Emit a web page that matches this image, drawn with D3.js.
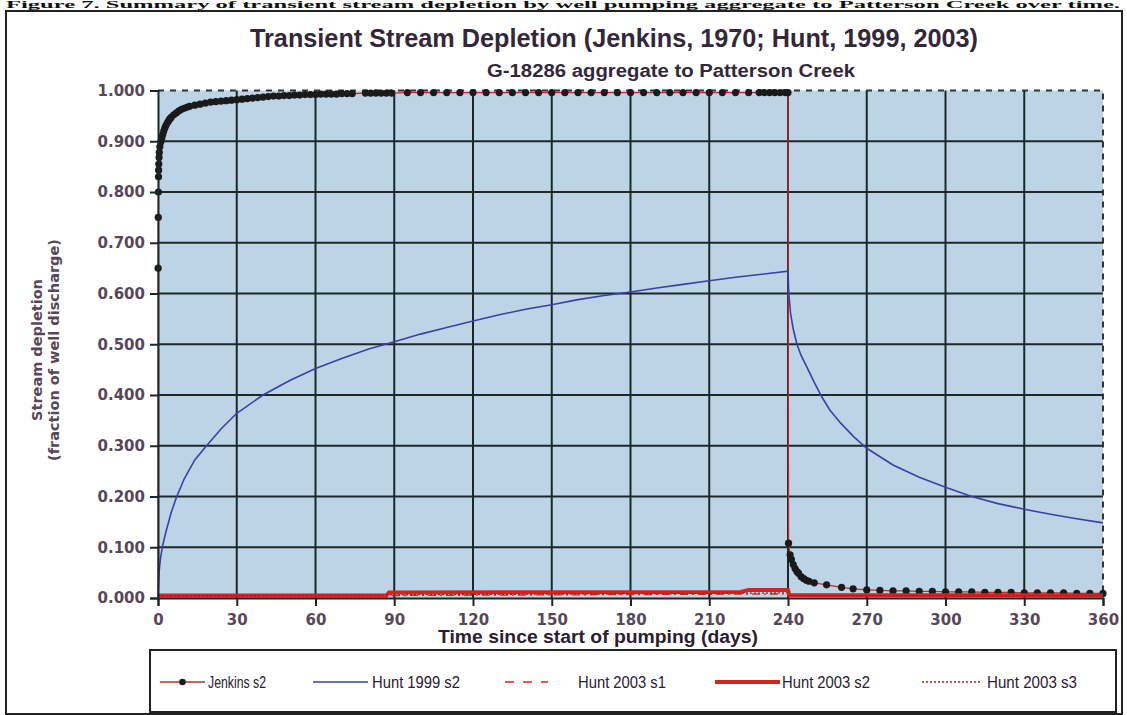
<!DOCTYPE html>
<html>
<head>
<meta charset="utf-8">
<script src="https://cdn.jsdelivr.net/npm/d3@7"></script>
<style>
  body { margin: 0; background: #fff; }
  svg { display: block; }
</style>
</head>
<body>
<script>
// tick labels
var xTicks = [0, 30, 60, 90, 120, 150, 180, 210, 240, 270, 300, 330, 360];
var yTicks = [0, 0.1, 0.2, 0.3, 0.4, 0.5, 0.6, 0.7, 0.8, 0.9, 1.0];

// Jenkins s2 (days, fraction)
var jenkinsDays = [0, 0.05, 0.1, 0.15, 0.2, 0.25, 0.3, 0.4, 0.5, 0.7, 1, 1.4, 1.8, 2.2, 2.6, 3, 3.5, 4, 4.5, 5, 6, 7, 8, 9, 10, 11, 12, 14, 16, 18, 20, 22, 24, 26, 28, 30, 32, 34, 36, 38, 40, 42, 44, 46, 48, 50, 52, 54, 56, 58, 60, 62, 64, 66, 68, 70, 72, 74,
  79, 81, 83, 85, 87, 89,
  95, 100, 105, 110, 115, 120, 125, 130, 135, 140, 145, 150, 155, 160, 165, 170, 175, 180, 185, 190, 195, 200, 205, 210, 215, 220, 225,
  229, 231, 233, 235, 237, 239, 240,
  240.2, 240.8, 241.3, 242, 242.7, 243.4, 244, 245, 246, 247, 248, 250, 254.7, 260.4, 264.8, 270, 275, 280, 285, 290, 295, 300, 305, 310, 315, 320, 325, 330, 335, 340, 345, 350, 355, 360];
var jenkinsValues = [0, 0.65, 0.75, 0.80, 0.83, 0.843, 0.855, 0.868, 0.878, 0.889, 0.898, 0.906, 0.913, 0.920, 0.926, 0.931, 0.936, 0.940, 0.944, 0.947, 0.952, 0.956, 0.960, 0.963, 0.965, 0.967, 0.969, 0.971, 0.973, 0.975, 0.977, 0.978, 0.979, 0.980, 0.981, 0.982, 0.983, 0.984, 0.985, 0.986, 0.987, 0.988, 0.989, 0.989, 0.990, 0.990, 0.991, 0.991, 0.992, 0.992, 0.992, 0.993, 0.993, 0.993, 0.993, 0.994, 0.994, 0.994,
  0.995, 0.995, 0.995, 0.995, 0.995, 0.995,
  0.996, 0.996, 0.996, 0.996, 0.996, 0.996, 0.996, 0.996, 0.996, 0.996, 0.996, 0.996, 0.996, 0.996, 0.996, 0.996, 0.996, 0.996, 0.996, 0.996, 0.996, 0.996, 0.996, 0.996, 0.996, 0.996, 0.996,
  0.996, 0.996, 0.996, 0.996, 0.996, 0.996, 0.996,
  0.108, 0.085, 0.076, 0.066, 0.058, 0.052, 0.049, 0.042, 0.038, 0.035, 0.033, 0.030, 0.026, 0.021, 0.018, 0.016, 0.015, 0.014, 0.014, 0.013, 0.013, 0.012, 0.012, 0.012, 0.011, 0.011, 0.011, 0.010, 0.010, 0.010, 0.010, 0.009, 0.009, 0.009];

// Hunt 1999 s2
var hunt99Days = [0, 0.3, 0.6, 1, 1.8, 3, 5, 7, 10, 14, 18.5, 24, 30, 40, 50, 60, 70, 80, 90, 100, 110, 120, 130, 140, 150, 160, 170, 180, 190, 200, 210, 220, 230, 240,
  240.3, 241, 242, 243.4, 245, 247.2, 250, 252.9, 256, 260, 265, 270, 280, 290, 300, 310, 320, 330, 340, 350, 360];
var hunt99Values = [0, 0.04, 0.062, 0.08, 0.104, 0.13, 0.168, 0.198, 0.235, 0.272, 0.30, 0.333, 0.364, 0.40, 0.428, 0.452, 0.472, 0.49, 0.505, 0.52, 0.533, 0.546, 0.558, 0.569, 0.578, 0.588, 0.596, 0.603, 0.611, 0.618, 0.625, 0.632, 0.638, 0.644,
  0.60, 0.56, 0.53, 0.50, 0.478, 0.455, 0.425, 0.396, 0.37, 0.345, 0.318, 0.295, 0.262, 0.238, 0.218, 0.200, 0.186, 0.175, 0.165, 0.156, 0.148];

// Hunt 2003 s1, s2, s3
var hunt03s1Days = [0, 240, 240.5, 360];
var hunt03s1Values = [0.003, 0.008, 0.004, 0.003];
var hunt03s2Days = [0, 87, 88, 222, 225, 240, 240.5, 360];
var hunt03s2Values = [0.005, 0.005, 0.011, 0.012, 0.016, 0.016, 0.006, 0.005];
var hunt03s3Days = [0, 240, 240.5, 360];
var hunt03s3Values = [0.004, 0.010, 0.005, 0.004];

var seriesNames = ["Jenkins s2", "Hunt 1999 s2", "Hunt 2003 s1", "Hunt 2003 s2", "Hunt 2003 s3"];

var W = 1127, H = 715;
var svg = d3.select("body").append("svg").attr("width", W).attr("height", H);

var narrow = "'Liberation Sans Narrow', 'Arial Narrow', 'Liberation Sans', Arial, sans-serif";
var wide = "'DejaVu Sans', Verdana, sans-serif";

// line of document text above the chart
svg.append("text")
  .attr("x", 6).attr("y", 8)
  .attr("textLength", 1114).attr("lengthAdjust", "spacingAndGlyphs")
  .style("font-family", "'Liberation Serif', 'Times New Roman', serif")
  .style("font-weight", "bold").style("font-size", "10px").style("fill", "#111")
  .text("Figure 7. Summary of transient stream depletion by well pumping aggregate to Patterson Creek over time.");

// outer chart box
svg.append("rect")
  .attr("x", 6).attr("y", 11).attr("width", 1116).attr("height", 703)
  .attr("fill", "#fff").attr("stroke", "#222").attr("stroke-width", 2);

var x = d3.scaleLinear().domain([0, 360]).range([158, 1103]);
var y = d3.scaleLinear().domain([0, 1]).range([598, 90.5]);

// plot area
svg.append("rect")
  .attr("x", x(0)).attr("y", y(1))
  .attr("width", x(360) - x(0)).attr("height", y(0) - y(1))
  .attr("fill", "#bdd4e7");

var grid = svg.append("g").attr("stroke", "#1c2828").attr("stroke-width", 2);
grid.selectAll("line.v").data(xTicks.filter(function(d){ return d > 0 && d < 360; }))
  .enter().append("line")
  .attr("x1", function(d){ return x(d); }).attr("x2", function(d){ return x(d); })
  .attr("y1", y(1)).attr("y2", y(0));
grid.selectAll("line.h").data(yTicks.filter(function(d){ return d > 0 && d < 1; }))
  .enter().append("line")
  .attr("x1", x(0)).attr("x2", x(360))
  .attr("y1", function(d){ return y(d); }).attr("y2", function(d){ return y(d); });

// dashed plot border (top, right)
svg.append("path")
  .attr("d", "M" + x(0) + "," + y(1) + "H" + x(360) + "V" + y(0))
  .attr("fill", "none").attr("stroke", "#333").attr("stroke-width", 2)
  .attr("stroke-dasharray", "6,6");

function zipPts(days, vals) {
  return days.map(function(d, i){ return [d, vals[i]]; });
}
var line = d3.line().x(function(d){ return x(d[0]); }).y(function(d){ return y(d[1]); });

var jenkins = zipPts(jenkinsDays, jenkinsValues);
svg.append("path").datum(jenkins).attr("d", line)
  .attr("fill", "none").attr("stroke", "#c42a24").attr("stroke-width", 1.3);
svg.append("g").selectAll("circle").data(jenkins.slice(1)).enter().append("circle")
  .attr("cx", function(d){ return x(d[0]); }).attr("cy", function(d){ return y(d[1]); })
  .attr("r", 3.6).attr("fill", "#1a1a1a");

svg.append("path").datum(zipPts(hunt99Days, hunt99Values)).attr("d", line)
  .attr("fill", "none").attr("stroke", "#3d3fa6").attr("stroke-width", 1.6);

svg.append("path").datum(zipPts(hunt03s1Days, hunt03s1Values)).attr("d", line)
  .attr("fill", "none").attr("stroke", "#d4281f").attr("stroke-width", 1.3)
  .attr("stroke-dasharray", "8,4,2,4");
svg.append("path").datum(zipPts(hunt03s2Days, hunt03s2Values)).attr("d", line)
  .attr("fill", "none").attr("stroke", "#d4221c").attr("stroke-width", 4);
svg.append("path").datum(zipPts(hunt03s3Days, hunt03s3Values)).attr("d", line)
  .attr("fill", "none").attr("stroke", "#a8201c").attr("stroke-width", 1.3)
  .attr("stroke-dasharray", "2,2");

// axes
var labelColor = "#584757";
var yAxis = svg.append("g").attr("transform", "translate(" + x(0) + ",0)")
  .call(d3.axisLeft(y).tickValues(yTicks).tickFormat(d3.format(".3f")).tickSize(8).tickPadding(5));
var xAxis = svg.append("g").attr("transform", "translate(0," + y(0) + ")")
  .call(d3.axisBottom(x).tickValues(xTicks).tickSize(8).tickPadding(8));
[yAxis, xAxis].forEach(function(a){
  a.select(".domain").attr("stroke", "#1c2828").attr("stroke-width", 2);
  a.selectAll(".tick line").attr("stroke", "#1c2828").attr("stroke-width", 2);
  a.selectAll(".tick text")
    .style("font-family", wide).style("font-weight", "bold")
    .style("font-size", "15px").style("fill", labelColor);
});

// titles
svg.append("text")
  .attr("x", 614).attr("y", 47).attr("text-anchor", "middle")
  .attr("textLength", 728).attr("lengthAdjust", "spacingAndGlyphs")
  .style("font-family", narrow).style("font-weight", "bold").style("font-size", "25px")
  .style("fill", "#33283a")
  .text("Transient Stream Depletion (Jenkins, 1970; Hunt, 1999, 2003)");
svg.append("text")
  .attr("x", 671).attr("y", 77).attr("text-anchor", "middle")
  .attr("textLength", 368).attr("lengthAdjust", "spacingAndGlyphs")
  .style("font-family", narrow).style("font-weight", "bold").style("font-size", "18px")
  .style("fill", "#33283a")
  .text("G-18286 aggregate to Patterson Creek");
svg.append("text")
  .attr("x", 598).attr("y", 643).attr("text-anchor", "middle")
  .attr("textLength", 320).attr("lengthAdjust", "spacingAndGlyphs")
  .style("font-family", narrow).style("font-weight", "bold").style("font-size", "18px")
  .style("fill", "#2a2030")
  .text("Time since start of pumping (days)");

var yTitle = svg.append("text")
  .attr("transform", "translate(46,350) rotate(-90)")
  .attr("text-anchor", "middle")
  .style("font-family", wide).style("font-weight", "bold").style("font-size", "14.5px")
  .style("fill", labelColor);
yTitle.append("tspan").attr("x", 0).attr("dy", "-0.3em").text("Stream depletion");
yTitle.append("tspan").attr("x", 0).attr("dy", "1.2em").text("(fraction of well discharge)");

// legend
svg.append("rect")
  .attr("x", 150).attr("y", 650).attr("width", 966).attr("height", 62)
  .attr("fill", "#fff").attr("stroke", "#222").attr("stroke-width", 2);

var legendItems = [
  {name: seriesNames[0], x1: 160, x2: 205, tx: 208, tl: 58, color: "#c42a24", w: 1.5, dash: null, marker: true},
  {name: seriesNames[1], x1: 313, x2: 368, tx: 372, tl: 88, color: "#3d3fa6", w: 1.6, dash: null},
  {name: seriesNames[2], x1: 505, x2: 548, tx: 578, tl: 88, color: "#d4281f", w: 1.6, dash: "9,9"},
  {name: seriesNames[3], x1: 715, x2: 780, tx: 782, tl: 88, color: "#d4221c", w: 4, dash: null},
  {name: seriesNames[4], x1: 922, x2: 982, tx: 987, tl: 90, color: "#a8201c", w: 1.4, dash: "2,2"}
];
var ly = 682;
var lg = svg.append("g").selectAll("g").data(legendItems).enter().append("g");
lg.append("line")
  .attr("x1", function(d){ return d.x1; }).attr("x2", function(d){ return d.x2; })
  .attr("y1", ly).attr("y2", ly)
  .attr("stroke", function(d){ return d.color; })
  .attr("stroke-width", function(d){ return d.w; })
  .attr("stroke-dasharray", function(d){ return d.dash; });
lg.filter(function(d){ return d.marker; }).append("circle")
  .attr("cx", function(d){ return (d.x1 + d.x2) / 2; }).attr("cy", ly).attr("r", 3.3)
  .attr("fill", "#1a1a1a");
lg.append("text")
  .attr("x", function(d){ return d.tx; }).attr("y", ly + 6)
  .attr("textLength", function(d){ return d.tl; }).attr("lengthAdjust", "spacingAndGlyphs")
  .style("font-family", narrow).style("font-size", "17px").style("fill", "#2a2030")
  .text(function(d){ return d.name; });
</script>
</body>
</html>
